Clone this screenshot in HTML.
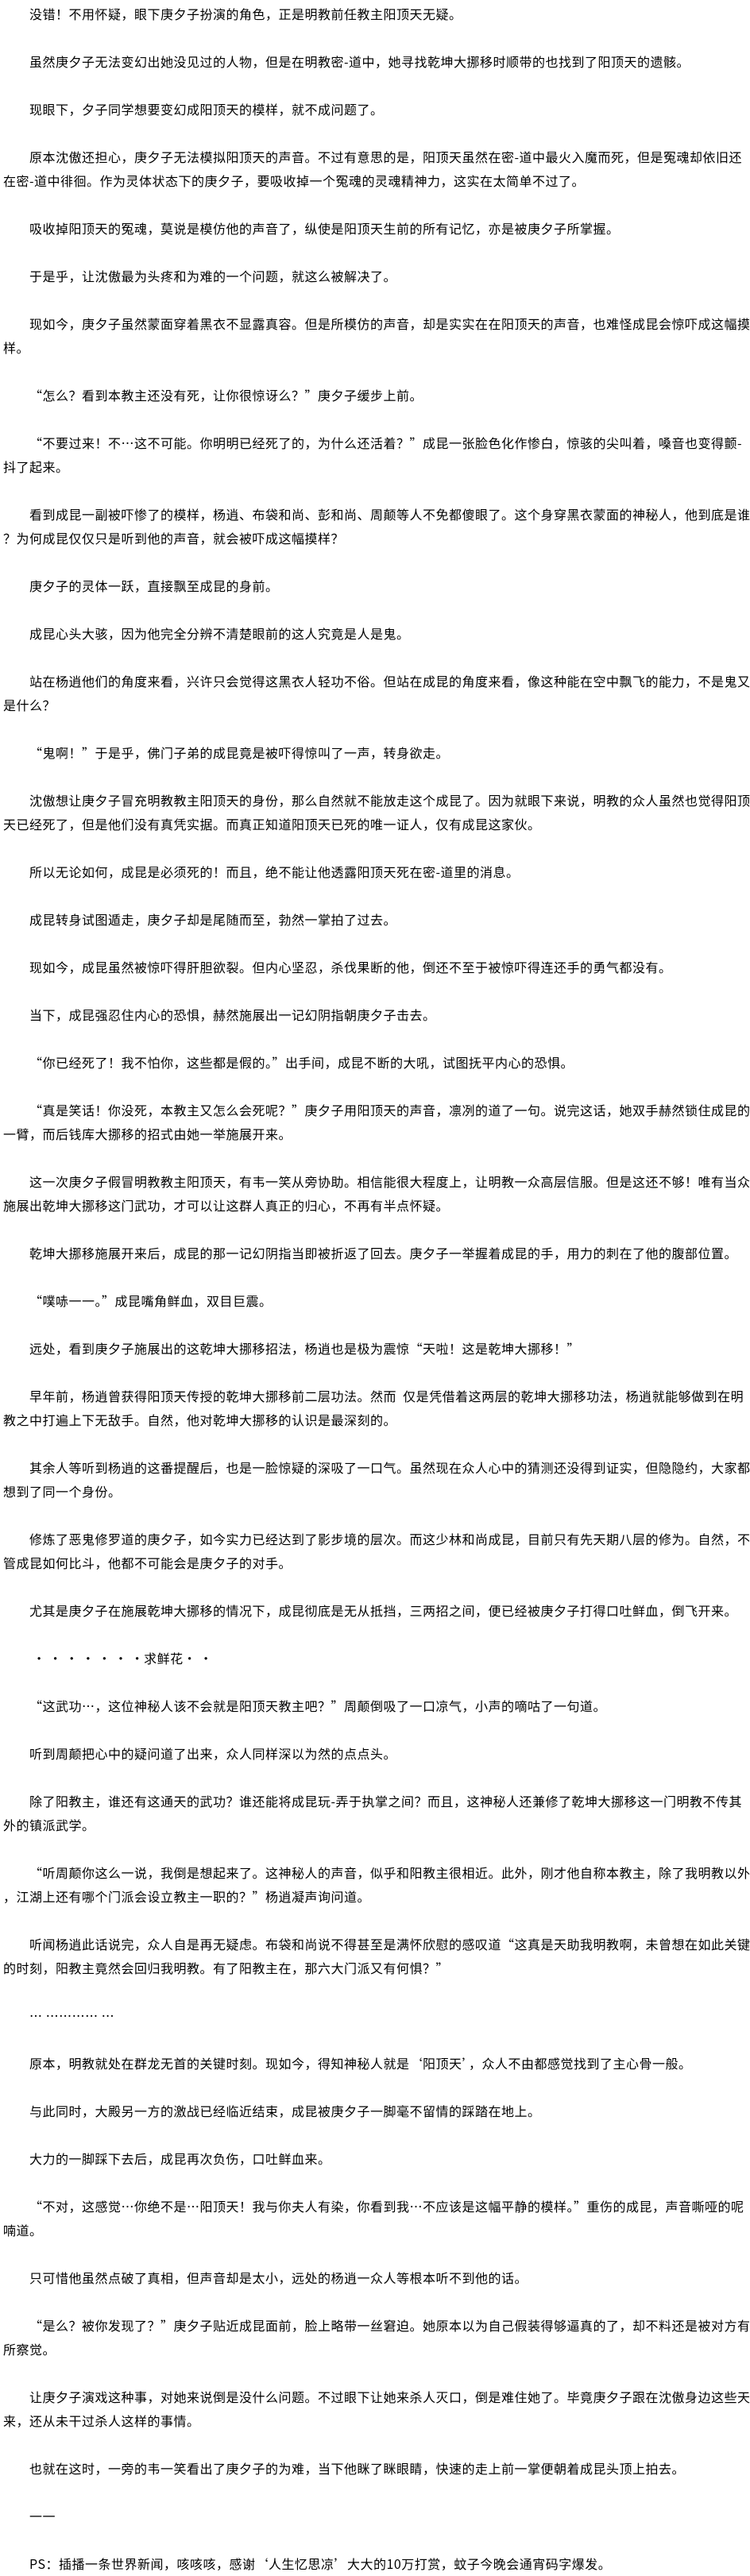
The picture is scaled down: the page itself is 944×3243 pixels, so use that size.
<!DOCTYPE html>
<html>
<head>
<meta charset="utf-8">
<style>
html,body{margin:0;padding:0;background:#fff;}
body{width:944px;height:3243px;overflow:hidden;padding-top:2px;box-sizing:border-box;
font-family:"WenQuanYi Zen Hei","Noto Sans CJK SC","Liberation Sans",sans-serif;
font-size:16px;letter-spacing:0.5px;color:#000;}
p{margin:0 0 30px 0;padding-left:4px;text-indent:33px;line-height:30px;white-space:nowrap;}
</style>
</head>
<body>
<p>没错！不用怀疑，眼下庚夕子扮演的角色，正是明教前任教主阳顶天无疑。</p>
<p>虽然庚夕子无法变幻出她没见过的人物，但是在明教密-道中，她寻找乾坤大挪移时顺带的也找到了阳顶天的遗骸。</p>
<p>现眼下，夕子同学想要变幻成阳顶天的模样，就不成问题了。</p>
<p>原本沈傲还担心，庚夕子无法模拟阳顶天的声音。不过有意思的是，阳顶天虽然在密-道中最火入魔而死，但是冤魂却依旧还<br>在密-道中徘徊。作为灵体状态下的庚夕子，要吸收掉一个冤魂的灵魂精神力，这实在太简单不过了。</p>
<p>吸收掉阳顶天的冤魂，莫说是模仿他的声音了，纵使是阳顶天生前的所有记忆，亦是被庚夕子所掌握。</p>
<p>于是乎，让沈傲最为头疼和为难的一个问题，就这么被解决了。</p>
<p>现如今，庚夕子虽然蒙面穿着黑衣不显露真容。但是所模仿的声音，却是实实在在阳顶天的声音，也难怪成昆会惊吓成这幅摸<br>样。</p>
<p>“怎么？看到本教主还没有死，让你很惊讶么？”庚夕子缓步上前。</p>
<p>“不要过来！不…这不可能。你明明已经死了的，为什么还活着？”成昆一张脸色化作惨白，惊骇的尖叫着，嗓音也变得颤-<br>抖了起来。</p>
<p>看到成昆一副被吓惨了的模样，杨逍、布袋和尚、彭和尚、周颠等人不免都傻眼了。这个身穿黑衣蒙面的神秘人，他到底是谁<br>？为何成昆仅仅只是听到他的声音，就会被吓成这幅摸样？</p>
<p>庚夕子的灵体一跃，直接飘至成昆的身前。</p>
<p>成昆心头大骇，因为他完全分辨不清楚眼前的这人究竟是人是鬼。</p>
<p>站在杨逍他们的角度来看，兴许只会觉得这黑衣人轻功不俗。但站在成昆的角度来看，像这种能在空中飘飞的能力，不是鬼又<br>是什么？</p>
<p>“鬼啊！”于是乎，佛门子弟的成昆竟是被吓得惊叫了一声，转身欲走。</p>
<p>沈傲想让庚夕子冒充明教教主阳顶天的身份，那么自然就不能放走这个成昆了。因为就眼下来说，明教的众人虽然也觉得阳顶<br>天已经死了，但是他们没有真凭实据。而真正知道阳顶天已死的唯一证人，仅有成昆这家伙。</p>
<p>所以无论如何，成昆是必须死的！而且，绝不能让他透露阳顶天死在密-道里的消息。</p>
<p>成昆转身试图遁走，庚夕子却是尾随而至，勃然一掌拍了过去。</p>
<p>现如今，成昆虽然被惊吓得肝胆欲裂。但内心坚忍，杀伐果断的他，倒还不至于被惊吓得连还手的勇气都没有。</p>
<p>当下，成昆强忍住内心的恐惧，赫然施展出一记幻阴指朝庚夕子击去。</p>
<p>“你已经死了！我不怕你，这些都是假的。”出手间，成昆不断的大吼，试图抚平内心的恐惧。</p>
<p>“真是笑话！你没死，本教主又怎么会死呢？”庚夕子用阳顶天的声音，凛冽的道了一句。说完这话，她双手赫然锁住成昆的<br>一臂，而后钱库大挪移的招式由她一举施展开来。</p>
<p>这一次庚夕子假冒明教教主阳顶天，有韦一笑从旁协助。相信能很大程度上，让明教一众高层信服。但是这还不够！唯有当众<br>施展出乾坤大挪移这门武功，才可以让这群人真正的归心，不再有半点怀疑。</p>
<p>乾坤大挪移施展开来后，成昆的那一记幻阴指当即被折返了回去。庚夕子一举握着成昆的手，用力的刺在了他的腹部位置。</p>
<p>“噗哧一一。”成昆嘴角鲜血，双目巨震。</p>
<p>远处，看到庚夕子施展出的这乾坤大挪移招法，杨逍也是极为震惊“天啦！这是乾坤大挪移！”</p>
<p>早年前，杨逍曾获得阳顶天传授的乾坤大挪移前二层功法。然而&nbsp; 仅是凭借着这两层的乾坤大挪移功法，杨逍就能够做到在明<br>教之中打遍上下无敌手。自然，他对乾坤大挪移的认识是最深刻的。</p>
<p>其余人等听到杨逍的这番提醒后，也是一脸惊疑的深吸了一口气。虽然现在众人心中的猜测还没得到证实，但隐隐约，大家都<br>想到了同一个身份。</p>
<p>修炼了恶鬼修罗道的庚夕子，如今实力已经达到了影步境的层次。而这少林和尚成昆，目前只有先天期八层的修为。自然，不<br>管成昆如何比斗，他都不可能会是庚夕子的对手。</p>
<p>尤其是庚夕子在施展乾坤大挪移的情况下，成昆彻底是无从抵挡，三两招之间，便已经被庚夕子打得口吐鲜血，倒飞开来。</p>
<p>&nbsp;·&nbsp;·&nbsp;·&nbsp;·&nbsp;·&nbsp;·&nbsp;·求鲜花·&nbsp;·</p>
<p>“这武功…，这位神秘人该不会就是阳顶天教主吧？”周颠倒吸了一口凉气，小声的嘀咕了一句道。</p>
<p>听到周颠把心中的疑问道了出来，众人同样深以为然的点点头。</p>
<p>除了阳教主，谁还有这通天的武功？谁还能将成昆玩-弄于执掌之间？而且，这神秘人还兼修了乾坤大挪移这一门明教不传其<br>外的镇派武学。</p>
<p>“听周颠你这么一说，我倒是想起来了。这神秘人的声音，似乎和阳教主很相近。此外，刚才他自称本教主，除了我明教以外<br>，江湖上还有哪个门派会设立教主一职的？”杨逍凝声询问道。</p>
<p>听闻杨逍此话说完，众人自是再无疑虑。布袋和尚说不得甚至是满怀欣慰的感叹道“这真是天助我明教啊，未曾想在如此关键<br>的时刻，阳教主竟然会回归我明教。有了阳教主在，那六大门派又有何惧？”</p>
<p>… ………… …</p>
<p>原本，明教就处在群龙无首的关键时刻。现如今，得知神秘人就是‘阳顶天’，众人不由都感觉找到了主心骨一般。</p>
<p>与此同时，大殿另一方的激战已经临近结束，成昆被庚夕子一脚毫不留情的踩踏在地上。</p>
<p>大力的一脚踩下去后，成昆再次负伤，口吐鲜血来。</p>
<p>“不对，这感觉…你绝不是…阳顶天！我与你夫人有染，你看到我…不应该是这幅平静的模样。”重伤的成昆，声音嘶哑的呢<br>喃道。</p>
<p>只可惜他虽然点破了真相，但声音却是太小，远处的杨逍一众人等根本听不到他的话。</p>
<p>“是么？被你发现了？”庚夕子贴近成昆面前，脸上略带一丝窘迫。她原本以为自己假装得够逼真的了，却不料还是被对方有<br>所察觉。</p>
<p>让庚夕子演戏这种事，对她来说倒是没什么问题。不过眼下让她来杀人灭口，倒是难住她了。毕竟庚夕子跟在沈傲身边这些天<br>来，还从未干过杀人这样的事情。</p>
<p>也就在这时，一旁的韦一笑看出了庚夕子的为难，当下他眯了眯眼睛，快速的走上前一掌便朝着成昆头顶上拍去。</p>
<p>一一</p>
<p>PS：插播一条世界新闻，咳咳咳，感谢‘人生忆思凉’大大的10万打赏，蚊子今晚会通宵码字爆发。</p>
</body>
</html>
